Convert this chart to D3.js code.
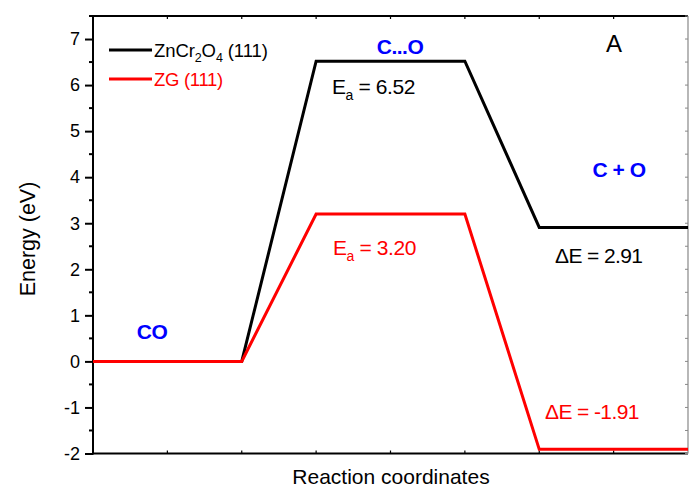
<!DOCTYPE html>
<html>
<head>
<meta charset="utf-8">
<script src="https://cdn.jsdelivr.net/npm/d3@7"></script>
<style>
  html, body { margin: 0; padding: 0; background: #fff; }
  svg { display: block; font-family: "Liberation Sans", Arial, sans-serif; }
</style>
</head>
<body>
<svg id="chart" width="689" height="490"></svg>
<script>
// Reaction coordinate positions of each state (start, adsorbed, TS start, TS end, final, end)
const coords = [0, 2, 3, 5, 6, 8];
// Energy profiles (eV)
const zncrEnergy = [0, 0, 6.52, 6.52, 2.91, 2.91];
const zgEnergy   = [0, 0, 3.20, 3.20, -1.91, -1.91];
const seriesColors = ["#000000", "#ff0000"];
const yTicks = [-2, -1, 0, 1, 2, 3, 4, 5, 6, 7];
const yMinorTicks = [-1.5, -0.5, 0.5, 1.5, 2.5, 3.5, 4.5, 5.5, 6.5, 7.5];
const xTicks = [1, 2, 3, 4, 5, 6, 7];

const svg = d3.select("#chart");
const plotL = 93, plotR = 688, plotT = 16, plotB = 453.5;

const x = d3.scaleLinear().domain([0, 8]).range([plotL, plotR]);
const y = d3.scaleLinear().domain([-2, 7.5]).range([plotB, plotT]);

// Frame
const frame = svg.append("g").attr("stroke", "#000").attr("stroke-width", 2);
frame.append("line").attr("x1", plotL).attr("x2", plotR).attr("y1", plotT).attr("y2", plotT);
frame.append("line").attr("x1", plotL).attr("x2", plotR).attr("y1", plotB).attr("y2", plotB);
frame.append("line").attr("x1", plotL).attr("x2", plotL).attr("y1", plotT - 1).attr("y2", plotB + 1);
svg.append("line").attr("x1", plotR).attr("x2", plotR).attr("y1", plotT).attr("y2", plotB)
  .attr("stroke", "#888").attr("stroke-width", 1.2);

// Left axis with outward major ticks and minor ticks
const yAxis = d3.axisLeft(y).tickValues(yTicks).tickSize(8).tickPadding(5)
  .tickFormat(d => d < 0 ? "-" + Math.abs(d) : String(d));
const gy = svg.append("g").attr("transform", `translate(${plotL},0)`).call(yAxis);
gy.select(".domain").remove();
gy.selectAll(".tick line").attr("stroke-width", 2);
gy.selectAll(".tick text").attr("font-size", 18).attr("fill", "#000")
  .attr("font-family", "Liberation Sans, Arial, sans-serif");
svg.append("g").selectAll("line").data(yMinorTicks).join("line")
  .attr("x1", plotL - 4).attr("x2", plotL).attr("y1", d => y(d)).attr("y2", d => y(d))
  .attr("stroke", "#000").attr("stroke-width", 2);

// Right axis inward ticks (thin gray)
svg.append("g").selectAll("line").data(yTicks.concat(yMinorTicks)).join("line")
  .attr("x1", plotR - 3).attr("x2", plotR).attr("y1", d => y(d)).attr("y2", d => y(d))
  .attr("stroke", "#888").attr("stroke-width", 1);

// Bottom & top inward ticks
svg.append("g").selectAll("line").data(xTicks).join("line")
  .attr("x1", d => x(d)).attr("x2", d => x(d)).attr("y1", plotB).attr("y2", plotB - 3)
  .attr("stroke", "#000").attr("stroke-width", 1.2);
svg.append("g").selectAll("line").data(xTicks).join("line")
  .attr("x1", d => x(d)).attr("x2", d => x(d)).attr("y1", plotT).attr("y2", plotT + 3)
  .attr("stroke", "#000").attr("stroke-width", 1.2);

// Axis titles
svg.append("text").attr("transform", `translate(35,239) rotate(-90)`)
  .attr("text-anchor", "middle").attr("font-size", 21.5).text("Energy (eV)");
svg.append("text").attr("x", 391).attr("y", 484).attr("text-anchor", "middle")
  .attr("font-size", 21).text("Reaction coordinates");

// Energy profiles; black first so red sits on top along the shared baseline
const line = d3.line().x(d => x(d[0])).y(d => y(d[1]));
[zncrEnergy, zgEnergy].forEach((vals, i) => {
  svg.append("path").datum(coords.map((c, j) => [c, vals[j]]))
    .attr("d", line).attr("fill", "none")
    .attr("stroke", seriesColors[i]).attr("stroke-width", 3)
    .attr("stroke-linejoin", "miter");
});

// Legend
const legend = svg.append("g");
seriesColors.forEach((c, i) => {
  const ly = 50 + i * 29;
  legend.append("line").attr("x1", 109).attr("x2", 152).attr("y1", ly).attr("y2", ly)
    .attr("stroke", c).attr("stroke-width", 3);
});
const t1 = legend.append("text").attr("x", 154).attr("y", 57).attr("font-size", 18.5)
  .attr("fill", "#000").attr("letter-spacing", -0.1);
t1.append("tspan").text("ZnCr");
t1.append("tspan").attr("dy", 5).attr("font-size", 12.5).text("2");
t1.append("tspan").attr("dy", -5).text("O");
t1.append("tspan").attr("dy", 5).attr("font-size", 12.5).text("4");
t1.append("tspan").attr("dy", -5).text(" (111)");
legend.append("text").attr("x", 154).attr("y", 86).attr("font-size", 18.5)
  .attr("letter-spacing", -0.3).attr("fill", "#ff0000").text("ZG (111)");

// State labels
const stateLabel = (tx, ty, s) => svg.append("text").attr("x", tx).attr("y", ty)
  .attr("text-anchor", "middle").attr("font-size", 21).attr("font-weight", "bold")
  .attr("fill", "#0000ff").attr("letter-spacing", -0.5).text(s);
stateLabel(152, 339, "CO");
stateLabel(400, 54, "C...O");
stateLabel(619, 177, "C + O");

svg.append("text").attr("x", 606).attr("y", 52).attr("font-size", 24).text("A");

// Energy annotations
function eaLabel(tx, ty, val, color) {
  const t = svg.append("text").attr("x", tx).attr("y", ty).attr("font-size", 21)
    .attr("fill", color).attr("letter-spacing", -0.4);
  t.append("tspan").text("E");
  t.append("tspan").attr("dy", 6).attr("font-size", 14).text("a");
  t.append("tspan").attr("dy", -6).text(" = " + val.toFixed(2));
}
eaLabel(332, 94, zncrEnergy[2], "#000");
eaLabel(333, 255, zgEnergy[2], "#ff0000");

svg.append("text").attr("x", 555).attr("y", 263).attr("font-size", 21).attr("fill", "#000")
  .attr("letter-spacing", -0.6).text("\u0394E = " + zncrEnergy[4].toFixed(2));
svg.append("text").attr("x", 545).attr("y", 419).attr("font-size", 21).attr("fill", "#ff0000")
  .attr("letter-spacing", -0.6).text("\u0394E = " + zgEnergy[4].toFixed(2));
</script>
</body>
</html>
